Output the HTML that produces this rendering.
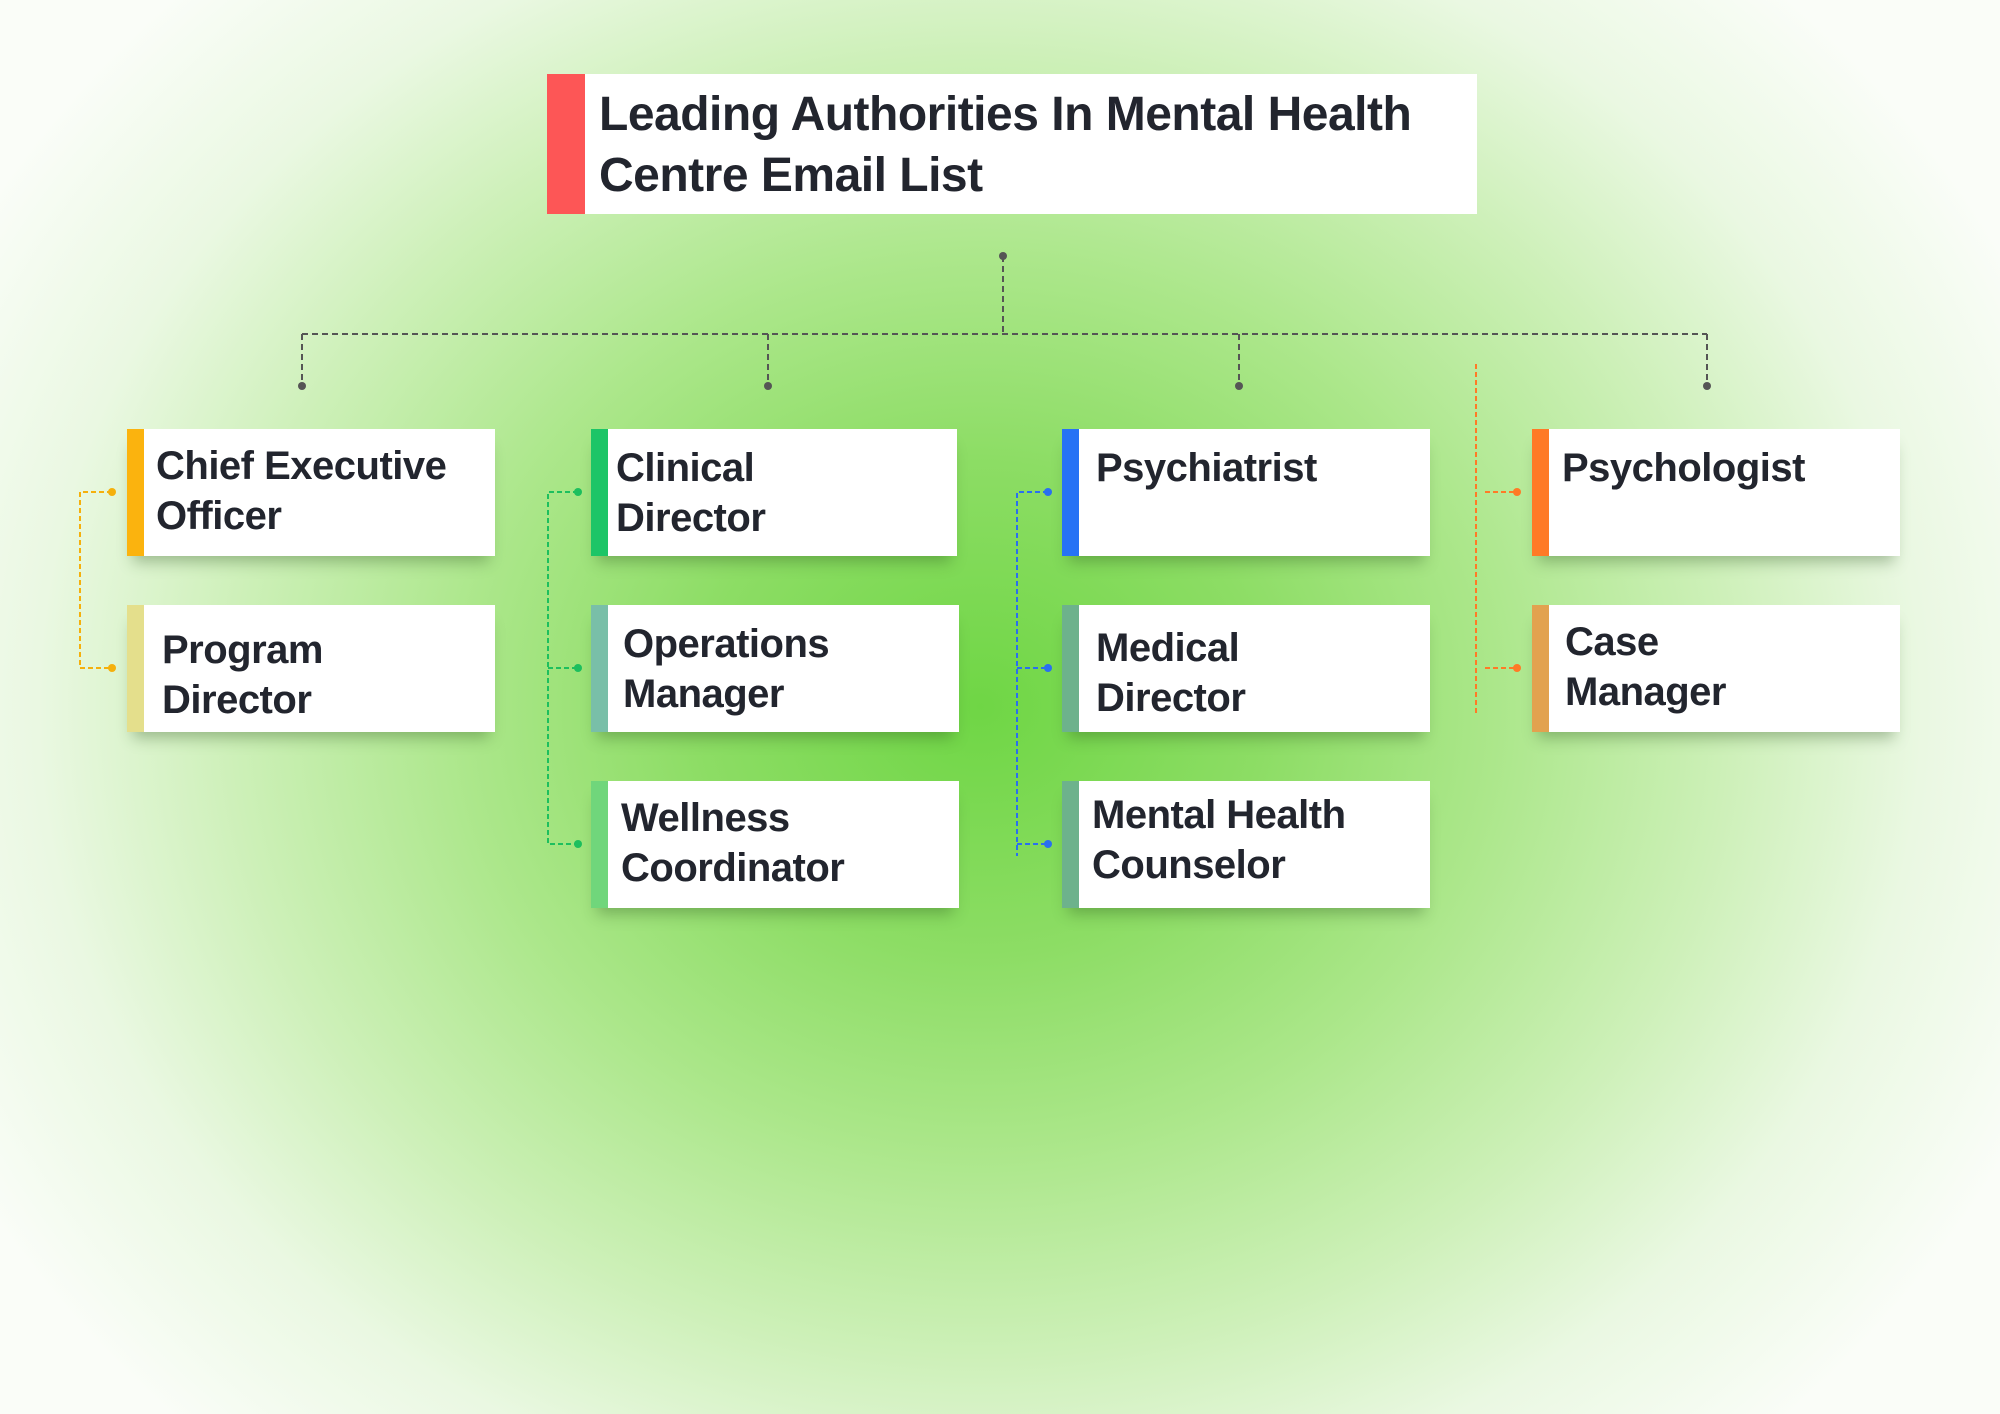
<!DOCTYPE html>
<html><head><meta charset="utf-8"><style>
html,body{margin:0;padding:0}
body{width:2000px;height:1414px;position:relative;overflow:hidden;
background:radial-gradient(ellipse 1150px 1000px at 49% 50%,#6fd645 0%,#8ddd65 25%,#ace78b 45%,#cdf0b8 65%,#eaf8e2 82%,#fafdf8 100%);
font-family:"Liberation Sans",sans-serif;}
.box{position:absolute;background:#fff;box-shadow:0 12px 14px -6px rgba(40,80,30,.35)}
.bar{position:absolute;left:0;top:0;bottom:0;width:17px}
.t{position:absolute;font-weight:bold;color:#22252e;font-size:40px;line-height:50px;letter-spacing:-0.5px}
svg{position:absolute;left:0;top:0}
</style></head><body>
<svg width="2000" height="1414">
<g stroke="#555" stroke-width="2" stroke-dasharray="6,4" fill="none">
<path d="M1003 256 V334 M302 334 H1707 M302 334 V385 M768 334 V385 M1239 334 V385 M1707 334 V385"/>
</g>
<g fill="#555"><circle cx="1003" cy="256" r="4"/><circle cx="302" cy="386" r="4"/><circle cx="768" cy="386" r="4"/><circle cx="1239" cy="386" r="4"/><circle cx="1707" cy="386" r="4"/></g>
<g stroke="#f5b00c" stroke-width="2" stroke-dasharray="5,3" fill="none"><path d="M112 492 H80 V668 H112"/></g>
<g fill="#f5b00c"><circle cx="112" cy="492" r="4"/><circle cx="112" cy="668" r="4"/></g>
<g stroke="#1dbf5e" stroke-width="2" stroke-dasharray="5,3" fill="none"><path d="M578 492 H548 V844 H578 M548 668 H578"/></g>
<g fill="#1dbf5e"><circle cx="578" cy="492" r="4"/><circle cx="578" cy="668" r="4"/><circle cx="578" cy="844" r="4"/></g>
<g stroke="#2a6ff0" stroke-width="2" stroke-dasharray="5,3" fill="none"><path d="M1048 492 H1017 V856 M1017 668 H1048 M1017 844 H1048"/></g>
<g fill="#2a6ff0"><circle cx="1048" cy="492" r="4"/><circle cx="1048" cy="668" r="4"/><circle cx="1048" cy="844" r="4"/></g>
<g stroke="#ff7a26" stroke-width="2" stroke-dasharray="5,3" fill="none"><path d="M1476 364 V714 M1485 492 H1517 M1485 668 H1517"/></g>
<g fill="#ff7a26"><circle cx="1517" cy="492" r="4"/><circle cx="1517" cy="668" r="4"/></g>
</svg>

<div class="box" style="left:547px;top:74px;width:930px;height:140px;box-shadow:none">
<div class="bar" style="width:38px;background:#fd5656"></div>
<div class="t" style="left:52px;top:10px;font-size:48px;line-height:61px">Leading Authorities In Mental Health<br>Centre Email List</div></div>

<div class="box" style="left:127px;top:429px;width:368px;height:127px"><div class="bar" style="background:#fbb30e"></div><div class="t" style="left:29px;top:12px">Chief Executive<br>Officer</div></div>
<div class="box" style="left:127px;top:605px;width:368px;height:127px"><div class="bar" style="background:#e4df8c"></div><div class="t" style="left:35px;top:20px">Program<br>Director</div></div>

<div class="box" style="left:591px;top:429px;width:366px;height:127px"><div class="bar" style="background:#1dc567"></div><div class="t" style="left:25px;top:14px">Clinical<br>Director</div></div>
<div class="box" style="left:591px;top:605px;width:368px;height:127px"><div class="bar" style="background:#79bfa8"></div><div class="t" style="left:32px;top:14px">Operations<br>Manager</div></div>
<div class="box" style="left:591px;top:781px;width:368px;height:127px"><div class="bar" style="background:#70d67b"></div><div class="t" style="left:30px;top:12px">Wellness<br>Coordinator</div></div>

<div class="box" style="left:1062px;top:429px;width:368px;height:127px"><div class="bar" style="background:#2672f5"></div><div class="t" style="left:34px;top:14px">Psychiatrist</div></div>
<div class="box" style="left:1062px;top:605px;width:368px;height:127px"><div class="bar" style="background:#6db28c"></div><div class="t" style="left:34px;top:18px">Medical<br>Director</div></div>
<div class="box" style="left:1062px;top:781px;width:368px;height:127px"><div class="bar" style="background:#6db28c"></div><div class="t" style="left:30px;top:9px">Mental Health<br>Counselor</div></div>

<div class="box" style="left:1532px;top:429px;width:368px;height:127px"><div class="bar" style="background:#ff7a26"></div><div class="t" style="left:30px;top:14px">Psychologist</div></div>
<div class="box" style="left:1532px;top:605px;width:368px;height:127px"><div class="bar" style="background:#e2a24f"></div><div class="t" style="left:33px;top:12px">Case<br>Manager</div></div>
</body></html>
